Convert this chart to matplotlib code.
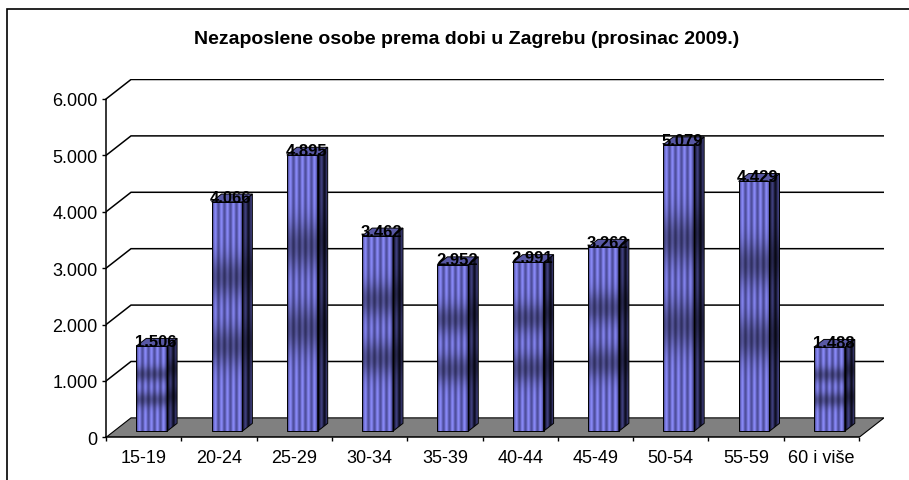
import matplotlib
matplotlib.use("Agg")
import matplotlib.pyplot as plt
import numpy as np
from matplotlib.patches import Polygon, Rectangle

plt.rcParams['font.family'] = ['Liberation Sans', 'DejaVu Sans']

title = "Nezaposlene osobe prema dobi u Zagrebu (prosinac 2009.)"
age_groups = ["15-19", "20-24", "25-29", "30-34", "35-39",
              "40-44", "45-49", "50-54", "55-59", "60 i više"]
unemployed = [1506, 4066, 4895, 3462, 2952, 2991, 3262, 5079, 4429, 1488]
y_ticks = [0, 1000, 2000, 3000, 4000, 5000, 6000]
y_tick_labels = ["0", "1.000", "2.000", "3.000", "4.000", "5.000", "6.000"]

# fake 3d: floor depth in data units
DX = 0.332
DY = 346.0
BAR_W = 0.41
BAR_Z0 = 0.32   # depth where the bar front face sits
BAR_D = 0.40    # depth of one bar

LIGHT = np.array([0.53, 0.53, 0.96])
DARK = np.array([0.31, 0.31, 0.62])
SIDE_LIGHT = np.array([0.24, 0.24, 0.48])
SIDE_DARK = np.array([0.06, 0.06, 0.14])
TOP = '#5858a4'


def texture(w_px, h_px, light, dark, stripes):
    # vertical stripes with a couple of darker horizontal bands
    u = np.linspace(0, 1, w_px)
    s = 0.5 - 0.5 * np.cos(2 * np.pi * stripes * u)
    col = dark[None, :] * (1 - s[:, None]) + light[None, :] * s[:, None]
    t = np.linspace(0, 1, h_px)[:, None]
    band = 1 - 0.38 * np.exp(-((t - 0.33) / 0.09) ** 2) - 0.38 * np.exp(-((t - 0.63) / 0.09) ** 2)
    return np.clip(band[:, :, None] * col[None, :, :], 0, 1)


def draw_bar(ax, i, v):
    xl = i + 0.5 - BAR_W / 2 + BAR_Z0 * DX
    xr = xl + BAR_W
    y0 = BAR_Z0 * DY
    y1 = v + BAR_Z0 * DY
    ddx, ddy = BAR_D * DX, BAR_D * DY

    front = Rectangle((xl, y0), BAR_W, v, fill=False, ec='black', lw=0.7, zorder=3.2)
    ax.add_patch(front)
    img = ax.imshow(texture(31, 200, LIGHT, DARK, 5), extent=[xl, xr, y0, y1],
                    origin='upper', aspect='auto', interpolation='bilinear', zorder=3)
    img.set_clip_path(front)

    side = Polygon([(xr, y0), (xr + ddx, y0 + ddy), (xr + ddx, y1 + ddy), (xr, y1)],
                   closed=True, fill=False, ec='black', lw=0.7, zorder=3.2)
    ax.add_patch(side)
    simg = ax.imshow(texture(10, 200, SIDE_LIGHT, SIDE_DARK, 1.5),
                     extent=[xr, xr + ddx, y0, y1 + ddy],
                     origin='upper', aspect='auto', interpolation='bilinear', zorder=3)
    simg.set_clip_path(side)

    top = Polygon([(xl, y1), (xr, y1), (xr + ddx, y1 + ddy), (xl + ddx, y1 + ddy)],
                  closed=True, fc=TOP, ec='black', lw=0.7, zorder=3.2)
    ax.add_patch(top)

    label = f"{v:,}".replace(",", ".")
    ax.text(i + 0.5 + BAR_Z0 * DX + 0.16 * DX, y1 + 0.01 * DY, label, ha='center', va='baseline',
            fontsize=12, fontweight='bold', zorder=5)


n = len(age_groups)
ymax = y_ticks[-1]

fig = plt.figure(figsize=(9.09, 4.81), dpi=100)
ax = fig.add_axes([106 / 909, (481 - 438.4) / 481, (n + DX) * 75.3 / 909, (ymax + DY) * 0.0564 / 481])

# back wall gridlines
for v in y_ticks[1:]:
    ax.plot([0, DX, n + DX], [v, v + DY, v + DY], color='black', lw=1.1, zorder=1,
            solid_joinstyle='miter')

# floor
ax.add_patch(Polygon([(0, 0), (DX, DY), (n + DX, DY), (n, 0)], closed=True,
                     fc='#808080', ec='black', lw=0.8, zorder=2))

for i, v in enumerate(unemployed):
    draw_bar(ax, i, v)

ax.set_xlim(0, n + DX)
ax.set_ylim(0, ymax + DY)

for s in ['top', 'right']:
    ax.spines[s].set_visible(False)
ax.spines['left'].set_bounds(0, ymax)
ax.spines['bottom'].set_bounds(0, n)
ax.spines['left'].set_linewidth(1.1)
ax.spines['bottom'].set_linewidth(1.1)

ax.set_yticks(y_ticks, y_tick_labels)
ax.tick_params(axis='y', length=3, width=1, pad=3, labelsize=13)
ax.set_xticks(np.arange(n + 1), [''] * (n + 1))
ax.set_xticks(np.arange(n) + 0.5, age_groups, minor=True)
ax.tick_params(axis='x', which='major', length=3, width=1)
ax.tick_params(axis='x', which='minor', length=0, pad=8.5, labelsize=13)

fig.text(467 / 909, 1 - 39 / 481, title, ha='center', va='center', fontsize=14, fontweight='bold')

# outer chart frame (runs off the right and bottom edge)
fig.add_artist(Rectangle((7.5 / 909, -0.2), 2, 1 - 9.7 / 481 + 0.2, transform=fig.transFigure,
                         fill=False, ec='black', lw=1.2))

fig.savefig('out.png', dpi=100)
